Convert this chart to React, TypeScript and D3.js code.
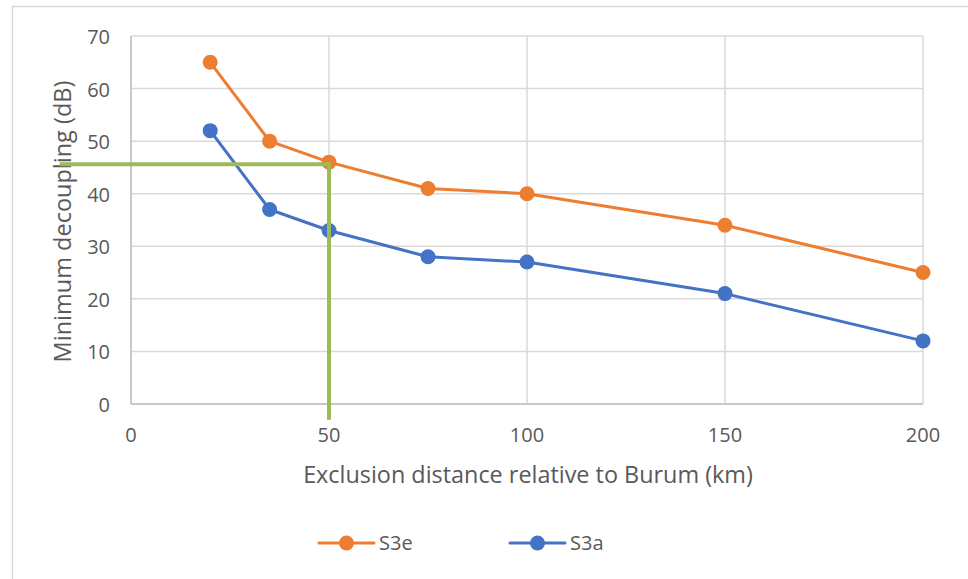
import React from "react";
import * as d3 from "d3";

const distances = [20, 35, 50, 75, 100, 150, 200];
const s3e = [65, 50, 46, 41, 40, 34, 25];
const s3a = [52, 37, 33, 28, 27, 21, 12];
const xTicks = [0, 50, 100, 150, 200];
const yTicks = [0, 10, 20, 30, 40, 50, 60, 70];
// Reference guide: required decoupling at 50 km exclusion distance
const guideX = [-18, 50, 50];
const guideY = [45.6, 45.6, -3];

const W = 968;
const H = 579;
const margin = { left: 131, right: 45, top: 36, bottom: 175 };
const FONT = "'Open Sans', 'Liberation Sans', sans-serif";
const TEXT = "#595959";
const GRID = "#d9d9d9";
const ORANGE = "#ed7d31";
const BLUE = "#4472c4";
const GREEN = "#9bbb59";

export default function App() {
  const x = d3.scaleLinear().domain([0, 200]).range([margin.left, W - margin.right]);
  const y = d3.scaleLinear().domain([0, 70]).range([H - margin.bottom, margin.top]);
  const line = d3
    .line<[number, number]>()
    .x((d) => x(d[0]))
    .y((d) => y(d[1]));

  const series = [
    { name: "S3e", values: s3e, color: ORANGE },
    { name: "S3a", values: s3a, color: BLUE },
  ];
  const guide: [number, number][] = guideX.map((v, i) => [v, guideY[i]]);
  const legendX = [319, 510];
  const legendY = 543;

  return (
    <svg
      width={W}
      height={H}
      style={{ position: "absolute", left: 0, top: 0, background: "#fff" }}
      fontFamily={FONT}
    >
      <rect x={12.5} y={6.5} width={W} height={H} fill="#fff" stroke={GRID} strokeWidth={1.5} />
      {/* gridlines */}
      {yTicks.map((t) => (
        <line key={"gy" + t} x1={x(0)} x2={x(200)} y1={y(t)} y2={y(t)} stroke={GRID} strokeWidth={1.5} />
      ))}
      {xTicks.map((t) => (
        <line key={"gx" + t} x1={x(t)} x2={x(t)} y1={y(0)} y2={y(70)} stroke={GRID} strokeWidth={1.5} />
      ))}
      {/* axes */}
      <line x1={x(0)} x2={x(200)} y1={y(0)} y2={y(0)} stroke="#bfbfbf" strokeWidth={1.5} />
      <line x1={x(0)} x2={x(0)} y1={y(0)} y2={y(70)} stroke="#bfbfbf" strokeWidth={1.5} />
      {yTicks.map((t) => (
        <text key={"ty" + t} x={110} y={y(t) + 1} dy="0.35em" textAnchor="end" fontSize={20} fill={TEXT}>
          {t}
        </text>
      ))}
      {xTicks.map((t) => (
        <text key={"tx" + t} x={x(t)} y={435} dy="0.35em" textAnchor="middle" fontSize={20} fill={TEXT}>
          {t}
        </text>
      ))}
      <text x={(x(0) + x(200)) / 2 + 1} y={475} dy="0.35em" textAnchor="middle" fontSize={23.4} fill={TEXT}>
        Exclusion distance relative to Burum (km)
      </text>
      <text
        transform={`translate(63,${(y(0) + y(70)) / 2 + 1.5}) rotate(-90)`}
        dy="0.35em"
        textAnchor="middle"
        fontSize={23.5}
        fill={TEXT}
      >
        Minimum decoupling (dB)
      </text>
      {/* series */}
      {series.map((s) => {
        const pts: [number, number][] = distances.map((d, i) => [d, s.values[i]]);
        return (
          <g key={s.name}>
            <path d={line(pts) || ""} fill="none" stroke={s.color} strokeWidth={3} strokeLinejoin="round" />
            {pts.map((p, i) => (
              <circle key={i} cx={x(p[0])} cy={y(p[1])} r={7.5} fill={s.color} />
            ))}
          </g>
        );
      })}
      {/* guide lines */}
      <path d={line(guide) || ""} fill="none" stroke={GREEN} strokeWidth={4} />
      {/* legend */}
      {series.map((s, i) => (
        <g key={"lg" + s.name} transform={`translate(${legendX[i]},${legendY})`}>
          <line x1={0} x2={55} y1={0} y2={0} stroke={s.color} strokeWidth={3} strokeLinecap="round" />
          <circle cx={27.5} cy={0} r={7.5} fill={s.color} />
          <text x={60} y={0} dy="0.35em" fontSize={20} fill={TEXT}>
            {s.name}
          </text>
        </g>
      ))}
    </svg>
  );
}
